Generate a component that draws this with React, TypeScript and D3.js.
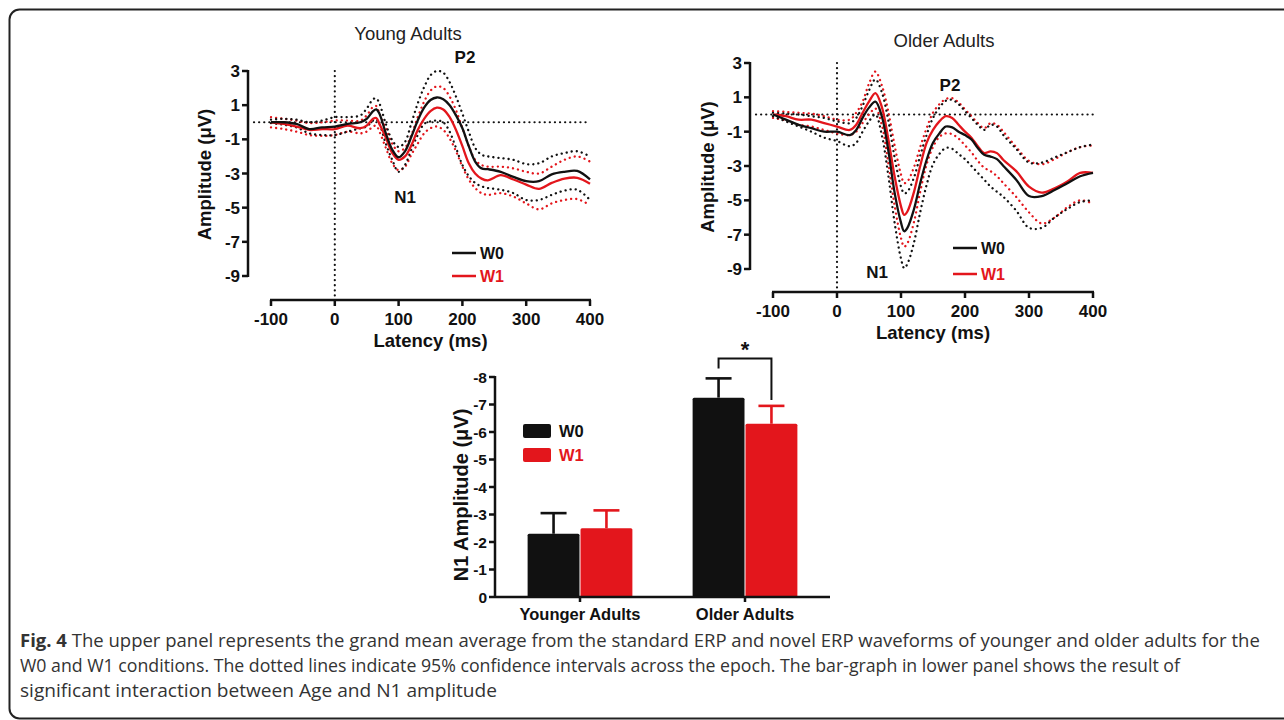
import * as d3 from 'd3';

// ---- ERP waveforms (µV) ----
const latencyYoung = [-100, -80, -60, -40, -20, 0, 20, 40, 50, 60, 65, 70, 80, 90, 100, 110, 120, 130, 140, 150, 160, 170, 180, 190, 200, 210, 220, 230, 240, 260, 280, 300, 320, 340, 360, 380, 400];
const youngW0 = [0, 0, -0.1, -0.4, -0.3, -0.25, -0.1, 0, 0.2, 0.65, 0.75, 0.5, -0.65, -1.6, -2.05, -1.7, -0.85, 0.1, 0.85, 1.3, 1.45, 1.35, 1.0, 0.4, -0.35, -1.4, -2.3, -2.7, -2.75, -2.9, -3.2, -3.45, -3.45, -3.05, -2.9, -2.85, -3.35];
const youngW1 = [0, -0.1, -0.25, -0.45, -0.4, -0.4, -0.2, -0.35, -0.2, 0.2, 0.25, -0.1, -0.9, -1.8, -2.2, -2.0, -1.35, -0.45, 0.2, 0.65, 0.85, 0.75, 0.3, -0.45, -1.4, -2.4, -3.0, -3.3, -3.4, -3.1, -3.35, -3.65, -3.9, -3.55, -3.3, -3.25, -3.6];
const youngW0Upper = [0.15, 0.2, 0.15, 0, 0.1, 0.3, 0.3, 0.4, 0.8, 1.35, 1.4, 1.1, -0.1, -1.05, -1.45, -1.15, -0.05, 1.1, 2.05, 2.75, 3.0, 2.9, 2.35, 1.5, 0.5, -0.55, -1.5, -1.9, -2.0, -2.1, -2.2, -2.45, -2.4, -2.0, -1.8, -1.7, -2.0];
const youngW0Lower = [-0.05, -0.15, -0.3, -0.65, -0.75, -0.75, -0.55, -0.35, -0.25, 0.1, 0.15, -0.1, -1.25, -2.2, -2.9, -2.5, -1.6, -0.75, -0.1, 0.05, 0.1, 0, -0.55, -1.5, -2.5, -3.15, -3.55, -3.75, -3.85, -3.95, -4.15, -4.55, -4.55, -4.25, -4.0, -3.95, -4.55];
const youngW1Upper = [0.3, 0.2, 0.1, -0.05, 0, 0.1, 0.1, 0.1, 0.4, 0.9, 0.95, 0.5, -0.35, -1.25, -1.7, -1.5, -0.75, 0.3, 1.2, 1.85, 2.1, 2.0, 1.5, 0.7, -0.35, -1.4, -2.2, -2.5, -2.6, -2.6, -2.7, -2.9, -3.0, -2.6, -2.2, -2.0, -2.3];
const youngW1Lower = [-0.3, -0.4, -0.55, -0.75, -0.8, -0.75, -0.55, -0.65, -0.55, -0.25, -0.2, -0.55, -1.5, -2.4, -2.8, -2.6, -1.9, -1.25, -0.65, -0.35, -0.25, -0.45, -0.95, -1.7, -2.6, -3.35, -3.85, -4.15, -4.25, -4.15, -4.35, -4.75, -5.1, -4.75, -4.55, -4.5, -4.85];

const latencyOld = [-100, -80, -60, -40, -20, 0, 20, 30, 40, 50, 60, 70, 80, 90, 100, 105, 110, 120, 130, 140, 150, 160, 170, 180, 190, 200, 210, 220, 230, 240, 250, 260, 280, 300, 320, 340, 360, 380, 400];
const oldW0 = [0, -0.3, -0.6, -0.8, -1.0, -1.0, -1.2, -0.9, -0.2, 0.4, 0.75, -0.1, -2.05, -4.55, -6.3, -6.8, -6.6, -5.55, -4.0, -2.65, -1.65, -1.1, -0.7, -0.75, -1.0, -1.2, -1.45, -1.95, -2.35, -2.45, -2.6, -3.0, -3.8, -4.75, -4.75, -4.4, -4.0, -3.6, -3.4];
const oldW1 = [0, -0.1, -0.3, -0.3, -0.5, -0.7, -0.9, -0.6, 0.1, 0.75, 1.25, 0.45, -1.4, -3.6, -5.35, -5.85, -5.65, -4.55, -3.0, -1.65, -0.9, -0.4, -0.1, -0.2, -0.6, -1.0, -1.35, -1.85, -2.25, -2.15, -2.25, -2.65, -3.3, -4.2, -4.55, -4.3, -3.9, -3.4, -3.4];
const oldW0Upper = [0.1, 0.05, 0, -0.1, -0.2, -0.4, -0.5, -0.2, 0.5, 1.4, 2.05, 1.3, -0.3, -2.5, -4.2, -4.6, -4.5, -3.7, -2.4, -1.2, -0.2, 0.4, 0.8, 0.85, 0.6, 0.2, -0.2, -0.6, -0.9, -0.6, -0.7, -1.2, -2.0, -2.8, -2.8, -2.5, -2.2, -1.9, -1.75];
const oldW0Lower = [-0.1, -0.4, -0.7, -1.0, -1.35, -1.55, -1.85, -1.65, -1.0, -0.4, 0.0, -1.2, -3.5, -6.3, -8.4, -8.95, -8.7, -7.5, -5.7, -4.1, -2.9, -2.3, -1.95, -2.0, -2.3, -2.6, -3.0, -3.4, -3.8, -4.2, -4.5, -4.8, -5.6, -6.6, -6.6, -6.0, -5.5, -5.1, -5.0];
const oldW1Upper = [0.2, 0.15, 0.1, 0.05, -0.1, -0.3, -0.3, 0.1, 0.75, 1.8, 2.5, 1.7, 0.2, -1.8, -3.5, -4.0, -3.9, -3.1, -1.9, -0.8, 0.1, 0.6, 0.9, 0.95, 0.7, 0.3, -0.1, -0.5, -0.8, -0.5, -0.6, -1.0, -1.9, -2.7, -2.9, -2.6, -2.2, -1.9, -1.8];
const oldW1Lower = [-0.2, -0.35, -0.6, -0.7, -0.9, -1.1, -1.2, -1.0, -0.5, 0.0, 0.35, -0.6, -2.8, -5.3, -7.2, -7.7, -7.5, -6.3, -4.5, -2.9, -1.9, -1.3, -1.1, -1.15, -1.4, -1.8, -2.2, -2.7, -3.1, -3.3, -3.6, -4.0, -4.8, -5.7, -6.35, -6.0, -5.4, -5.0, -5.2];

const ampTicks = [3, 1, -1, -3, -5, -7, -9];
const latencyTicks = [-100, 0, 100, 200, 300, 400];

// ---- N1 amplitude bar graph ----
const ageGroups = ['Younger Adults', 'Older Adults'];
const conditions = ['W0', 'W1'];
const n1MeanW0 = [-2.3, -7.25];
const n1MeanW1 = [-2.5, -6.3];
const n1SemW0 = [0.75, 0.7];
const n1SemW1 = [0.65, 0.65];
const n1Ticks = [0, -1, -2, -3, -4, -5, -6, -7, -8];

const captionLines = [
  'The upper panel represents the grand mean average from the standard ERP and novel ERP waveforms of younger and older adults for the',
  'W0 and W1 conditions. The dotted lines indicate 95% confidence intervals across the epoch. The bar-graph in lower panel shows the result of',
  'significant interaction between Age and N1 amplitude',
];

const BLACK = '#111111';
const RED = '#e3161c';
const AXIS_FONT = '"Liberation Sans", Arial, sans-serif';

type Series = { values: number[]; color: string; dotted: boolean };

interface PanelProps {
  title: string;
  latency: number[];
  series: Series[];
  x0: number; x1: number; yTop: number; yBottom: number; xAxisY: number;
  titleX: number; titleY: number;
  p2: [number, number]; n1: [number, number];
  legendX: number; legendY: number; legendGap: number;
  yLabelX: number; yLabelShift: number;
}

function ErpPanel(p: PanelProps) {
  const x = d3.scaleLinear().domain([-100, 400]).range([p.x0, p.x1]);
  const y = d3.scaleLinear().domain([-9, 3]).range([p.yBottom, p.yTop]);
  const yAxisX = p.x0 - 23;
  const line = d3.line<number>()
    .x((_, i) => x(p.latency[i]))
    .y(d => y(d))
    .curve(d3.curveCatmullRom.alpha(0.5));

  return (
    <g fontFamily={AXIS_FONT}>
      <text x={p.titleX} y={p.titleY} textAnchor="middle" fontSize={18.5} fill="#222">{p.title}</text>

      {/* zero reference lines */}
      <line x1={yAxisX + 6} x2={x(400)} y1={y(0)} y2={y(0)} stroke={BLACK} strokeWidth={2.2}
        strokeDasharray="0.1 5" strokeLinecap="round" />
      <line x1={x(0)} x2={x(0)} y1={y(3)} y2={p.xAxisY} stroke={BLACK} strokeWidth={2.2}
        strokeDasharray="0.1 5" strokeLinecap="round" />

      {p.series.map((s, i) => (
        <path key={i} d={line(s.values) || ''} fill="none" stroke={s.color}
          strokeWidth={s.dotted ? 2.3 : 2.3}
          strokeDasharray={s.dotted ? '0.1 5' : undefined}
          strokeLinecap={s.dotted ? 'round' : 'butt'} />
      ))}

      {/* y axis */}
      <line x1={yAxisX} x2={yAxisX} y1={y(3) - 1} y2={y(-9) + 1} stroke={BLACK} strokeWidth={2.5} />
      {ampTicks.map(t => (
        <g key={t}>
          <line x1={yAxisX - 6} x2={yAxisX} y1={y(t)} y2={y(t)} stroke={BLACK} strokeWidth={2.5} />
          <text x={yAxisX - 8} y={y(t)} dy="0.36em" textAnchor="end" fontSize={17} fontWeight="bold" fill={BLACK}>{t}</text>
        </g>
      ))}
      <text transform={`translate(${p.yLabelX},${(y(3) + y(-9)) / 2 + p.yLabelShift}) rotate(-90)`} textAnchor="middle"
        fontSize={18.5} fontWeight="bold" fill={BLACK}>Amplitude (μV)</text>

      {/* x axis */}
      <line x1={x(-100) - 1} x2={x(400) + 1} y1={p.xAxisY} y2={p.xAxisY} stroke={BLACK} strokeWidth={2.5} />
      {latencyTicks.map(t => (
        <g key={t}>
          <line x1={x(t)} x2={x(t)} y1={p.xAxisY} y2={p.xAxisY + 6} stroke={BLACK} strokeWidth={2.5} />
          <text x={x(t)} y={p.xAxisY + 25} textAnchor="middle" fontSize={17} fontWeight="bold" fill={BLACK}>{t}</text>
        </g>
      ))}
      <text x={x(150)} y={p.xAxisY + 47} textAnchor="middle" fontSize={18.5} fontWeight="bold" fill={BLACK}>Latency (ms)</text>

      <text x={p.p2[0]} y={p.p2[1]} textAnchor="middle" fontSize={17} fontWeight="bold" fill={BLACK}>P2</text>
      <text x={p.n1[0]} y={p.n1[1]} textAnchor="middle" fontSize={17} fontWeight="bold" fill={BLACK}>N1</text>

      {conditions.map((c, i) => (
        <g key={c} transform={`translate(${p.legendX},${p.legendY + i * p.legendGap})`}>
          <line x1={0} x2={24} y1={0} y2={0} stroke={i === 0 ? BLACK : RED} strokeWidth={2.5} />
          <text x={28} y={0} dy="0.36em" fontSize={16} fontWeight="bold" fill={i === 0 ? BLACK : RED}>{c}</text>
        </g>
      ))}
    </g>
  );
}

function N1Bars() {
  const y = d3.scaleLinear().domain([0, -8]).range([597, 377]);
  const x0 = d3.scaleBand<string>().domain(ageGroups).range([497.5, 827.5]);
  const x1 = d3.scaleBand<string>().domain(conditions).range([0, x0.bandwidth()]).paddingOuter(0.56);
  const axisX = 495;
  const means = [n1MeanW0, n1MeanW1];
  const sems = [n1SemW0, n1SemW1];
  const colors = [BLACK, RED];

  // significance bracket over the older group
  const gOld = x0('Older Adults') || 0;
  const bxL = gOld + (x1('W0') || 0) + x1.bandwidth() / 2;
  const bxR = gOld + (x1('W1') || 0) + x1.bandwidth() / 2;
  const topW0 = y(n1MeanW0[1] - n1SemW0[1]);
  const topW1 = y(n1MeanW1[1] - n1SemW1[1]);
  const bracketY = topW0 - 20;

  return (
    <g fontFamily={AXIS_FONT}>
      {ageGroups.map((g, gi) => conditions.map((c, ci) => {
        const bx = (x0(g) || 0) + (x1(c) || 0);
        const m = means[ci][gi];
        const e = m - sems[ci][gi];
        const cx = bx + x1.bandwidth() / 2;
        return (
          <g key={g + c}>
            <line x1={cx} x2={cx} y1={y(m)} y2={y(e)} stroke={colors[ci]} strokeWidth={2.6} />
            <line x1={cx - 13} x2={cx + 13} y1={y(e)} y2={y(e)} stroke={colors[ci]} strokeWidth={2.6} />
            <rect x={bx + 0.5} y={y(m)} width={x1.bandwidth() - 1} height={y(0) - y(m)} fill={colors[ci]} rx={1.5} />
          </g>
        );
      }))}

      <path d={`M${bxL},${topW0 - 10}V${bracketY}H${bxR}V${topW1 - 6}`} fill="none" stroke={BLACK} strokeWidth={2} />
      <text x={(bxL + bxR) / 2} y={bracketY - 1} textAnchor="middle" fontSize={22} fontWeight="bold" fill={BLACK}>*</text>

      {/* axes */}
      <line x1={axisX} x2={axisX} y1={y(-8) - 1} y2={y(0)} stroke={BLACK} strokeWidth={2.5} />
      {n1Ticks.map(t => (
        <g key={t}>
          <line x1={axisX - 6} x2={axisX} y1={y(t)} y2={y(t)} stroke={BLACK} strokeWidth={2.5} />
          <text x={axisX - 8} y={y(t)} dy="0.36em" textAnchor="end" fontSize={15.5} fontWeight="bold" fill={BLACK}>{t}</text>
        </g>
      ))}
      <line x1={axisX} x2={830} y1={y(0)} y2={y(0)} stroke={BLACK} strokeWidth={2.5} />
      {ageGroups.map(g => {
        const cx = (x0(g) || 0) + x0.bandwidth() / 2;
        return (
          <g key={g}>
            <line x1={cx} x2={cx} y1={y(0)} y2={y(0) + 5} stroke={BLACK} strokeWidth={2.5} />
            <text x={cx} y={y(0) + 23} textAnchor="middle" fontSize={16.5} fontWeight="bold" fill={BLACK}>{g}</text>
          </g>
        );
      })}
      <text transform="translate(468,495) rotate(-90)" textAnchor="middle"
        fontSize={20} fontWeight="bold" fill={BLACK}>N1  Amplitude (μV)</text>

      {conditions.map((c, i) => (
        <g key={c} transform={`translate(523,${424 + i * 24})`}>
          <rect x={0} y={0} width={28} height={14} rx={2} fill={colors[i]} />
          <text x={36} y={7} dy="0.36em" fontSize={16.5} fontWeight="bold" fill={colors[i]}>{c}</text>
        </g>
      ))}
    </g>
  );
}

export default function App() {
  const young: Series[] = [
    { values: youngW1Upper, color: RED, dotted: true },
    { values: youngW1Lower, color: RED, dotted: true },
    { values: youngW0Upper, color: BLACK, dotted: true },
    { values: youngW0Lower, color: BLACK, dotted: true },
    { values: youngW1, color: RED, dotted: false },
    { values: youngW0, color: BLACK, dotted: false },
  ];
  const old: Series[] = [
    { values: oldW1Upper, color: RED, dotted: true },
    { values: oldW1Lower, color: RED, dotted: true },
    { values: oldW0Upper, color: BLACK, dotted: true },
    { values: oldW0Lower, color: BLACK, dotted: true },
    { values: oldW1, color: RED, dotted: false },
    { values: oldW0, color: BLACK, dotted: false },
  ];

  return (
    <svg width={1284} height={720} style={{ position: 'absolute', left: 0, top: 0, background: '#fff' }}>
      <rect x={9.5} y={9.5} width={1300} height={709} rx={10} fill="#fff" stroke="#222" strokeWidth={2} />

      <ErpPanel title="Young Adults" latency={latencyYoung} series={young}
        x0={271} x1={590} yTop={71} yBottom={276} xAxisY={300}
        titleX={408} titleY={40} p2={[465, 63]} n1={[405, 203]}
        legendX={452} legendY={253} legendGap={23} yLabelX={211} yLabelShift={1} />
      <ErpPanel title="Older Adults" latency={latencyOld} series={old}
        x0={773} x1={1093} yTop={63} yBottom={269} xAxisY={292}
        titleX={944} titleY={47} p2={[950, 91]} n1={[877, 278]}
        legendX={953} legendY={248} legendGap={26} yLabelX={714} yLabelShift={1} />

      <N1Bars />

      <g fontFamily='"Open Sans", "Noto Sans", sans-serif' fontSize={18.5} fill="#333">
        <text x={20} y={647}>
          <tspan fontWeight="bold">Fig. 4</tspan> {captionLines[0]}
        </text>
        <text x={20} y={672} textLength={1160} lengthAdjust="spacingAndGlyphs">{captionLines[1]}</text>
        <text x={20} y={697} textLength={477} lengthAdjust="spacingAndGlyphs">{captionLines[2]}</text>
      </g>
    </svg>
  );
}
